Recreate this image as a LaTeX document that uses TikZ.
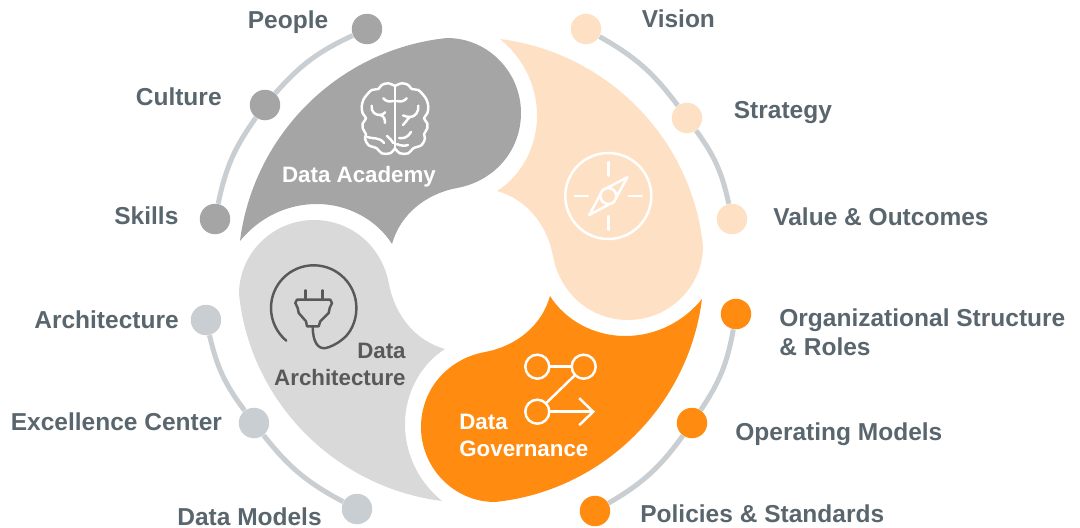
\documentclass[tikz,border=0pt]{standalone}
\usepackage{fontspec}
\usepackage{xcolor}
\setmainfont{Liberation Sans}
\usetikzlibrary{arrows.meta}
\definecolor{academyGray}{HTML}{A5A5A5}
\definecolor{visionPeach}{HTML}{FEE1C5}
\definecolor{governOrange}{HTML}{FF8C11}
\definecolor{archGray}{HTML}{D9D9D9}
\definecolor{ringGray}{HTML}{C9CED2}
\definecolor{labelGray}{HTML}{5A666E}
\definecolor{plugGray}{HTML}{595959}
\tikzset{
  dot/.style={circle, inner sep=0pt, minimum size=0.61cm, fill=#1},
  ringLine/.style={draw=ringGray, line width=0.1cm},
  ringLabel/.style={anchor=base west, inner sep=0pt, text=labelGray, font=\fontsize{13.95}{16.5}\selectfont\bfseries},
  petalLabel/.style={inner sep=0pt, font=\fontsize{12.7}{15.4}\selectfont\bfseries},
  iconLine/.style={draw=#1, line width=1.4pt, line cap=round, line join=round},
  graphDot/.style={circle, draw=white, line width=1.4pt, inner sep=0pt, minimum size=0.48cm}
}
% one petal, given around the middle of the wheel
\newcommand{\DrawPetal}[1]{%
  \fill[#1] (-231,-29) .. controls (-217.5,-136) and (-131.5,-221) .. (-24,-232)
    .. controls (17,-232) and (50,-198) .. (50,-157)
    .. controls (50,-120) and (24,-89) .. (-14,-82)
    .. controls (-46,-76) and (-71,-55) .. (-79,-26)
    .. controls (-94,-50) and (-123,-66) .. (-154,-66)
    .. controls (-186,-66) and (-213,-51) .. (-231,-29) -- cycle;
}
% half of the brain outline
\newcommand{\BrainSide}{%
  \draw[iconLine=white] plot[smooth, tension=0.6] coordinates {(0,-33) (-6.7,-35.7) (-13.3,-34) (-16.7,-30)
    (-23.3,-29) (-28.3,-24) (-31.7,-19) (-33.3,-12.3) (-32.3,-5.7) (-29,-0.7) (-32.3,4.3) (-32.3,9.3)
    (-29,15.3) (-30,19.3) (-26.7,26) (-18.3,29.3) (-13.3,34.3) (-5,34.3) (0,29.3)};
}

\begin{document}
\begin{tikzpicture}[x=0.02cm, y=-0.02cm]
  \useasboundingbox (0,0) rectangle (1080,528);
  % the four petals
  \foreach \ang/\col in {0/academyGray,-90/visionPeach,180/governOrange,90/archGray}{%
    \begin{scope}[shift={(471,270)}, rotate=\ang]
      \DrawPetal{\col}
    \end{scope}
  }
  % dots on the ring
  \foreach \name/\x/\y/\col in {people/367/29/academyGray, culture/265/105/academyGray, skills/215/219/academyGray,
      vision/586/29/visionPeach, strategy/687/118/visionPeach, value/732/219/visionPeach,
      org/736/314/governOrange, operating/692/423/governOrange, policies/595/511/governOrange,
      archi/206/320/ringGray, excellence/254/423/ringGray, models/357/509/ringGray}{%
    \node[dot=\col] (\name) at (\x,\y) {};
  }
  \draw[ringLine] (people) to[bend right=12] (culture);
  \draw[ringLine] (culture) to[bend right=12] (skills);
  \draw[ringLine] (vision) to[bend left=12] (strategy);
  \draw[ringLine] (strategy) to[bend left=12] (value);
  \draw[ringLine] (org) to[bend left=12] (operating);
  \draw[ringLine] (operating) to[bend left=12] (policies);
  \draw[ringLine] (archi) to[bend right=12] (excellence);
  \draw[ringLine] (excellence) to[bend right=12] (models);
  % labels of the dots
  \foreach \name/\x/\y/\txt in {peopleL/247.5/28/People, cultureL/135.5/105/Culture, skillsL/114/224/Skills,
      visionL/641.5/27/Vision, strategyL/733.5/118/Strategy, valueL/773/225/Value \& Outcomes,
      operatingL/735/440/Operating Models, policiesL/640/522/Policies \& Standards,
      archiL/34/328/Architecture, excellenceL/10.5/430/Excellence Center, modelsL/177/525/Data Models}{%
    \node[ringLabel] (\name) at (\x,\y) {\txt};
  }
  \node[ringLabel, anchor=west, align=left] (orgL) at (779,332) {Organizational Structure\\\& Roles};
  % labels of the petals
  \node[petalLabel, text=white] (academyL) at (359,177) {Data Academy};
  \node[petalLabel, text=plugGray, align=right, anchor=east] (architectureL) at (406,364) {Data\\Architecture};
  \node[petalLabel, text=white, align=left, anchor=west] (governanceL) at (459,435) {Data\\Governance};
  % brain
  \begin{scope}[shift={(395,119)}]
    \BrainSide
    \begin{scope}[xscale=-1]
      \BrainSide
    \end{scope}
    \draw[iconLine=white] (0,-33) -- (0,29.3);
    \draw[iconLine=white] (-11.7,-20.7) .. controls (-9,-17.5) and (-6,-17) .. (-1.7,-18);
    \draw[iconLine=white] (-23.3,-13.3) .. controls (-24,-7) and (-20,-4) .. (-15,-4) .. controls (-13,-4) and (-11,-5) .. (-10,-6.7);
    \draw[iconLine=white] (-15,-4) .. controls (-11,-3) and (-10,0) .. (-10,4);
    \draw[iconLine=white] (-28,18) .. controls (-22,20) and (-15,18) .. (-11,24);
    \draw[iconLine=white] (-8,17) .. controls (-5,20) and (-3,21) .. (-1.7,24);
    \draw[iconLine=white] (11.7,-20.7) .. controls (9,-17.5) and (6,-17) .. (1.7,-18);
    \draw[iconLine=white] (23.3,-13.3) .. controls (24,-7) and (20,-2) .. (15,-2) .. controls (12,-2) and (10,-3) .. (8,-3.5);
    \draw[iconLine=white] (15,-2) .. controls (11,1) and (11,4) .. (8,6);
    \draw[iconLine=white] (16,13) .. controls (13,18) and (9,20) .. (4,19);
    \draw[iconLine=white] (1.7,25) .. controls (6,27) and (10,27) .. (13,26);
  \end{scope}
  % compass
  \begin{scope}[shift={(608.3,196)}]
    \draw[iconLine=white] (0,0) circle (43);
    \draw[iconLine=white] (0,-33.7) -- (0,-20.3);
    \draw[iconLine=white] (0,33.7) -- (0,20.3);
    \draw[iconLine=white] (-33.7,0) -- (-20.3,0);
    \draw[iconLine=white] (33.7,0) -- (20.3,0);
    \draw[iconLine=white] (19,-18.7) -- (-5.7,-5.7) -- (-19,19) -- (5.7,5.7) -- cycle;
    \draw[iconLine=white, fill=visionPeach] (0,0) circle (8);
  \end{scope}
  % plug
  \draw[iconLine=plugGray] (286.3,340.7) .. controls (276.6,332.6) and (271,320.6) .. (271,308)
    .. controls (271,284.4) and (290.1,265.3) .. (313.7,265.3)
    .. controls (337.3,265.3) and (356.4,284.4) .. (356.4,308)
    .. controls (356.4,322) and (350,334) .. (342,339.7)
    .. controls (336,344.5) and (330,347) .. (326,348)
    .. controls (318,349.5) and (312.7,342) .. (312.7,326.3);
  \draw[iconLine=plugGray] (305.3,290.3) -- (305.3,299.7);
  \draw[iconLine=plugGray] (322.3,290.3) -- (322.3,299.7);
  \draw[iconLine=plugGray] (297,299.7) -- (330.3,299.7) -- (332,303) -- (329.7,308) -- (328.7,313) -- (320.3,321.3)
    -- (318.7,326.3) -- (307,326.3) -- (306,321.3) -- (298.7,313) -- (297.7,308) -- (295.3,303) -- cycle;
  % steps
  \node[graphDot] (stepA) at (537.3,366.7) {};
  \node[graphDot] (stepB) at (583.7,366.7) {};
  \node[graphDot] (stepC) at (537.3,411.7) {};
  \coordinate (stepEnd) at (595,411.7);
  \draw[iconLine=white] (stepA) -- (stepB);
  \draw[iconLine=white] (stepB) -- (stepC);
  \draw[iconLine=white, -{Straight Barb[length=0.28cm, width=0.54cm]}] (stepC) -- (stepEnd);
\end{tikzpicture}
\end{document}
